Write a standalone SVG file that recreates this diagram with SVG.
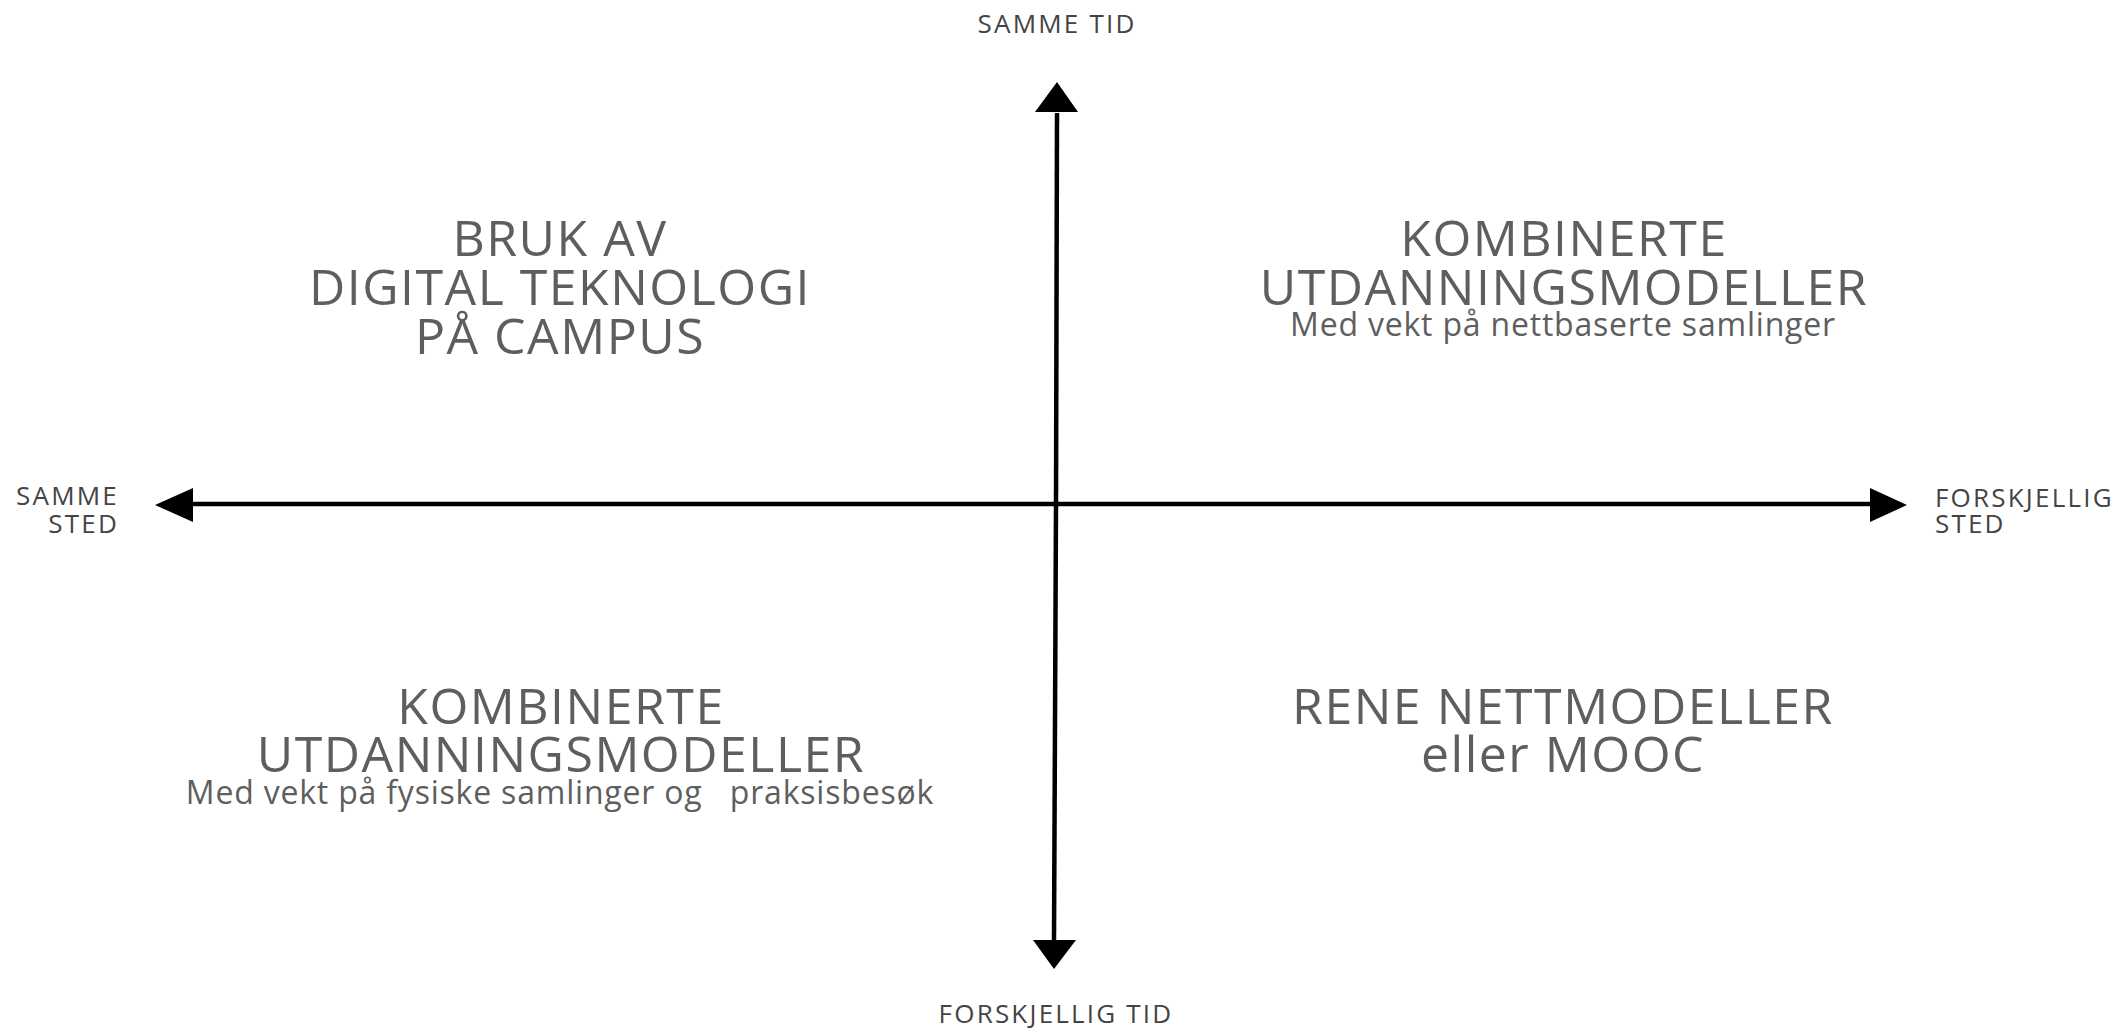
<svg xmlns="http://www.w3.org/2000/svg" width="2111" height="1031" viewBox="0 0 2111 1031">
<style>
  .axis { stroke: #000; stroke-width: 4.5; fill: none; }
  .lbl { font-family: "Open Sans", "Liberation Sans", sans-serif; font-size: 26px; letter-spacing: 2.2px; fill: #444; }
  .ttl { font-family: "Open Sans", "Liberation Sans", sans-serif; font-size: 50px; letter-spacing: 1.5px; fill: #5e5e5e; text-anchor: middle; }
  .sub { font-family: "Open Sans", "Liberation Sans", sans-serif; font-size: 32px; letter-spacing: 0.8px; fill: #5e5e5e; text-anchor: middle; white-space: pre; }
</style>
<rect width="2111" height="1031" fill="#fff"/>
<g id="connectors">
  <line class="axis" x1="1056" y1="504" x2="1057" y2="113"/>
  <polygon points="1057,82 1078,112 1035,112" fill="#000"/>
  <line class="axis" x1="1056" y1="504" x2="1054" y2="941"/>
  <polygon points="1054,969 1076,940 1033,940" fill="#000"/>
  <line class="axis" x1="1056" y1="504" x2="192" y2="504"/>
  <polygon points="155,505 193,488 193,522" fill="#000"/>
  <line class="axis" x1="1056" y1="504" x2="1872" y2="504"/>
  <polygon points="1907,505 1870,488 1870,522" fill="#000"/>
</g>
<g id="axis-top"><text class="lbl" x="1057" y="33" text-anchor="middle">SAMME TID</text></g>
<g id="axis-bottom"><text class="lbl" x="1056" y="1023" text-anchor="middle">FORSKJELLIG TID</text></g>
<g id="axis-left"><text class="lbl" text-anchor="end"><tspan x="119" y="505">SAMME</tspan><tspan x="119" y="533">STED</tspan></text></g>
<g id="axis-right"><text class="lbl"><tspan x="1935" y="507">FORSKJELLIG</tspan><tspan x="1935" y="533">STED</tspan></text></g>
<g id="q-top-left">
  <text class="ttl"><tspan x="560" y="256">BRUK AV</tspan><tspan x="560" y="305">DIGITAL TEKNOLOGI</tspan><tspan x="560" y="354">PÅ CAMPUS</tspan></text>
</g>
<g id="q-top-right">
  <text class="ttl"><tspan x="1564" y="256">KOMBINERTE</tspan><tspan x="1564" y="305">UTDANNINGSMODELLER</tspan></text>
  <text class="sub" x="1563" y="336">Med vekt på nettbaserte samlinger</text>
</g>
<g id="q-bottom-left">
  <text class="ttl"><tspan x="561" y="724">KOMBINERTE</tspan><tspan x="561" y="772">UTDANNINGSMODELLER</tspan></text>
  <text class="sub" x="560" y="804">Med vekt på fysiske samlinger og   praksisbesøk</text>
</g>
<g id="q-bottom-right">
  <text class="ttl"><tspan x="1563" y="724">RENE NETTMODELLER</tspan><tspan x="1563" y="772">eller MOOC</tspan></text>
</g>
</svg>
